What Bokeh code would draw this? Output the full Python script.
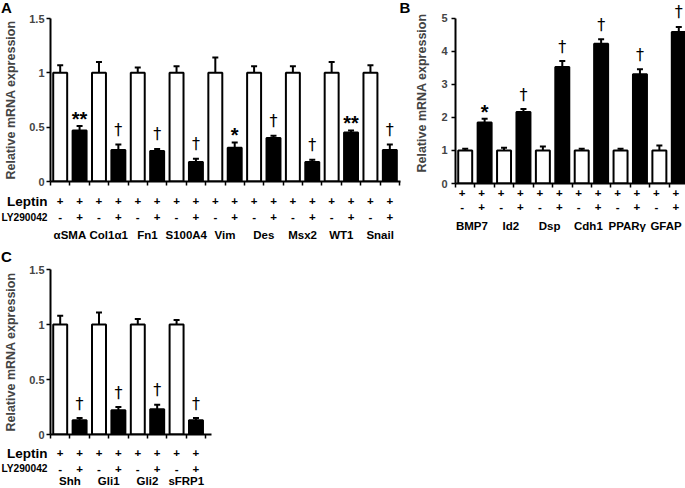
from bokeh.plotting import figure
from bokeh.models import (ColumnDataSource, Range1d, FixedTicker, Whisker, TeeHead,
                          CustomJSTickFormatter)
from bokeh.layouts import column, row
from bokeh.embed import file_html
from bokeh.resources import INLINE
from bokeh.core.properties import value

FONT = "Liberation Sans"
DAGGER_FONT = "DejaVu Sans"

# ---------------- data ----------------
A_genes = ["αSMA", "Col1α1", "Fn1", "S100A4", "Vim", "Des", "Msx2", "WT1", "Snail"]
A_control = [1, 1, 1, 1, 1, 1, 1, 1, 1]
A_control_err = [0.07, 0.10, 0.05, 0.06, 0.14, 0.06, 0.06, 0.10, 0.07]
A_ly = [0.47, 0.29, 0.28, 0.18, 0.31, 0.40, 0.18, 0.45, 0.29]
A_ly_err = [0.04, 0.05, 0.02, 0.03, 0.05, 0.02, 0.02, 0.02, 0.05]
A_sig = ["**", "†", "†", "†", "*", "†", "†", "**", "†"]

B_genes = ["BMP7", "Id2", "Dsp", "Cdh1", "PPARγ", "GFAP"]
B_control = [1, 1, 1, 1, 1, 1]
B_control_err = [0.05, 0.08, 0.12, 0.05, 0.05, 0.15]
B_ly = [1.84, 2.16, 3.52, 4.22, 3.30, 4.58]
B_ly_err = [0.12, 0.09, 0.18, 0.14, 0.15, 0.15]
B_sig = ["*", "†", "†", "†", "†", "†"]

C_genes = ["Shh", "Gli1", "Gli2", "sFRP1"]
C_control = [1, 1, 1, 1]
C_control_err = [0.08, 0.11, 0.05, 0.04]
C_ly = [0.13, 0.22, 0.23, 0.13]
C_ly_err = [0.02, 0.03, 0.04, 0.02]
C_sig = ["†", "†", "†", "†"]

ticks_15 = [0, 0.5, 1, 1.5]
tick_labels_15 = ["0", "0.5", "1", "1.5"]
ticks_5 = [0, 1, 2, 3, 4, 5]
tick_labels_5 = ["0", "1", "2", "3", "4", "5"]

leptin_signs = ["+", "+"]      # control bar, LY290042 bar
ly_signs = ["-", "+"]
row_headers = ["Leptin", "LY290042"]
panel_letters = ["A", "B", "C"]
y_title = "Relative mRNA expression"


def base_fig(**kw):
    return figure(output_backend="svg", toolbar_location=None, frame_align=False,
                  outline_line_color=None, background_fill_color="white",
                  border_fill_color="white", **kw)


def make_panel(genes, control, control_err, ly, ly_err, sig, yticks, ytick_labels,
               y_end, axis_top, frame_w, frame_h, x_end, b_left, b_right, b_top, b_bottom,
               tick_standoff, label_standoff):
    n = len(genes)
    p = base_fig(frame_width=frame_w, frame_height=frame_h,
                 x_range=Range1d(0, x_end), y_range=Range1d(0, y_end),
                 min_border_left=b_left, min_border_right=b_right,
                 min_border_top=b_top, min_border_bottom=b_bottom)
    p.xgrid.visible = False
    p.ygrid.visible = False

    xc = [2 * i + 0.5 for i in range(n)]
    xl = [2 * i + 1.5 for i in range(n)]

    p.vbar(x=xc, top=control, bottom=0, width=0.72, fill_color="white",
           line_color="black", line_width=2)
    p.vbar(x=xl, top=ly, bottom=0, width=0.72, fill_color="black",
           line_color="black", line_width=2)

    for xs, tops, errs in ((xc, control, control_err), (xl, ly, ly_err)):
        src = ColumnDataSource(dict(x=xs, lo=tops, hi=[t + e for t, e in zip(tops, errs)]))
        p.add_layout(Whisker(source=src, base="x", lower="lo", upper="hi",
                             dimension="height", line_color="black", line_width=2,
                             lower_head=None,
                             upper_head=TeeHead(size=6, line_width=2, line_color="black")))

    tips = [t + e for t, e in zip(ly, ly_err)]
    ax = [x for x, s in zip(xl, sig) if "*" in s]
    ay = [y for y, s in zip(tips, sig) if "*" in s]
    at = [s for s in sig if "*" in s]
    dx = [x for x, s in zip(xl, sig) if s == "†"]
    dy = [y for y, s in zip(tips, sig) if s == "†"]
    dt = [s for s in sig if s == "†"]
    if ax:
        p.text(x=ax, y=ay, text=at, text_font=value(FONT), text_font_size="20px",
               text_font_style="bold", text_align="center", text_baseline="middle",
               y_offset=-7, text_color="black")
    if dx:
        p.text(x=dx, y=dy, text=dt, text_font=value(DAGGER_FONT), text_font_size="16px",
               text_align="center", text_baseline="middle", y_offset=-15,
               text_color="black")

    xa = p.xaxis[0]
    xa.ticker = FixedTicker(ticks=list(range(0, 2 * n + 1)))
    xa.formatter = CustomJSTickFormatter(code="return ''")
    xa.major_label_standoff = 0
    xa.major_tick_out = 4
    xa.major_tick_in = 0
    xa.minor_tick_out = 0
    xa.minor_tick_in = 0
    xa.axis_line_width = 2
    xa.major_tick_line_width = 1.5

    ya = p.yaxis[0]
    ya.ticker = FixedTicker(ticks=yticks)
    ya.major_label_overrides = dict(zip(yticks, ytick_labels))
    ya.bounds = (0, axis_top)
    ya.major_tick_out = 4
    ya.major_tick_in = 0
    ya.minor_tick_out = 0
    ya.minor_tick_in = 0
    ya.axis_line_width = 2
    ya.major_tick_line_width = 1.5
    ya.major_label_text_font = FONT
    ya.major_label_text_font_size = "11px"
    ya.major_label_text_font_style = "bold"
    ya.major_label_standoff = tick_standoff
    ya.axis_label = y_title
    ya.axis_label_text_font = FONT
    ya.axis_label_text_font_size = "12.5px"
    ya.axis_label_text_font_style = "bold"
    ya.axis_label_standoff = label_standoff
    return p


def make_strip(width, height, x0, x1, y0, y1):
    s = base_fig(width=width, height=height, x_range=Range1d(x0, x1),
                 y_range=Range1d(y0, y1), x_axis_location=None, y_axis_location=None,
                 min_border=0)
    s.xgrid.visible = False
    s.ygrid.visible = False
    return s


def add_rows(s, genes, row_y, headers, px_per_unit):
    n = len(genes)
    bar_x = [2 * i + 0.5 for i in range(n)] + [2 * i + 1.5 for i in range(n)]
    mid_x = [2 * i + 1.0 for i in range(n)]
    s.text(x=bar_x, y=[row_y[0]] * (2 * n), text=[leptin_signs[0]] * n + [leptin_signs[1]] * n,
           text_font=value(FONT), text_font_size="11.5px", text_font_style="bold",
           text_align="center", text_baseline="middle", text_color="black")
    s.text(x=bar_x, y=[row_y[1]] * (2 * n), text=[ly_signs[0]] * n + [ly_signs[1]] * n,
           text_font=value(FONT), text_font_size="11.5px", text_font_style="bold",
           text_align="center", text_baseline="middle", text_color="black")
    s.text(x=mid_x, y=[row_y[2]] * n, text=genes,
           text_font=value(FONT), text_font_size="11.5px", text_font_style="bold",
           text_align="center", text_baseline="middle", text_color="black")
    if headers:
        hx = -3.0 / px_per_unit
        s.text(x=[hx], y=[row_y[0]], text=[headers[0]], text_font=value(FONT),
               text_font_size="13.5px", text_font_style="bold", text_align="right",
               text_baseline="middle", text_color="black")
        s.text(x=[hx], y=[row_y[1]], text=[headers[1]], text_font=value(FONT),
               text_font_size="10.2px", text_font_style="bold", text_align="right",
               text_baseline="middle", text_color="black")


# ---------------- layout (pixels; page has no margin) ----------------
LEFT_W = 412
TOP_STRIP_H = 14
ROW_BLOCK_H = 265
TOTAL_H = 488

# Panel A
A_FW, A_FH, A_XEND = 350, 163, 18.05
A_BL, A_BR, A_BT, A_BB = 50, LEFT_W - 50 - 350, 4, 6
A_PPU = A_FW / A_XEND
pA = make_panel(A_genes, A_control, A_control_err, A_ly, A_ly_err, A_sig,
                ticks_15, tick_labels_15, 1.5, 1.5, A_FW, A_FH, A_XEND,
                A_BL, A_BR, A_BT, A_BB, 2, 8)
A_STRIP_H = ROW_BLOCK_H - TOP_STRIP_H - (A_BT + A_FH + A_BB)
sA = make_strip(LEFT_W, A_STRIP_H, -A_BL / A_PPU, (LEFT_W - A_BL) / A_PPU,
                -A_BB - A_STRIP_H, -A_BB)
add_rows(sA, A_genes, (-19.7, -35.7, -53), row_headers, A_PPU)
# letter of panel C sits at the bottom of this strip
sA.text(x=[0.5 / A_PPU - A_BL / A_PPU], y=[-75], text=[panel_letters[2]],
        text_font=value(FONT), text_font_size="15px", text_font_style="bold",
        text_align="left", text_baseline="middle", text_color="black")

# top strip with panel letters A and B
sTop = make_strip(LEFT_W, TOP_STRIP_H, 0, LEFT_W, 0, TOP_STRIP_H)
sTop.text(x=[0.5, 399], y=[6.6, 6.6], text=panel_letters[0:2], text_font=value(FONT),
          text_font_size="15px", text_font_style="bold", text_align="left",
          text_baseline="middle", text_color="black")

# Panel B
B_FW, B_FH, B_XEND = 233, 181, 12.0
B_BL, B_BR, B_BT, B_BB = 40, 0, 2, 5
B_PPU = B_FW / B_XEND
pB = make_panel(B_genes, B_control, B_control_err, B_ly, B_ly_err, B_sig,
                ticks_5, tick_labels_5, 5.47, 5, B_FW, B_FH, B_XEND,
                B_BL, B_BR, B_BT, B_BB, 4, 9)
B_W = B_BL + B_FW + B_BR
B_STRIP_H = ROW_BLOCK_H - (B_BT + B_FH + B_BB)
sB = make_strip(B_W, B_STRIP_H, -B_BL / B_PPU, (B_W - B_BL) / B_PPU,
                -B_BB - B_STRIP_H, -B_BB)
add_rows(sB, B_genes, (-9, -23, -42), None, B_PPU)

# Panel C
C_FW, C_FH, C_XEND = 161, 165, 8.3
C_BL, C_BR, C_BT, C_BB = 50, 5, 4, 5
C_PPU = C_FW / C_XEND
pC = make_panel(C_genes, C_control, C_control_err, C_ly, C_ly_err, C_sig,
                ticks_15, tick_labels_15, 1.5, 1.5, C_FW, C_FH, C_XEND,
                C_BL, C_BR, C_BT, C_BB, 2, 8)
C_W = C_BL + C_FW + C_BR
C_STRIP_H = TOTAL_H - ROW_BLOCK_H - (C_BT + C_FH + C_BB)
sC = make_strip(C_W, C_STRIP_H, -C_BL / C_PPU, (C_W - C_BL) / C_PPU,
                -C_BB - C_STRIP_H, -C_BB)
add_rows(sC, C_genes, (-18.7, -34.3, -46.5), row_headers, C_PPU)

layout = column(row(column(sTop, pA, sA), column(pB, sB)), column(pC, sC))
open("out.html", "w").write(file_html(layout, INLINE))
